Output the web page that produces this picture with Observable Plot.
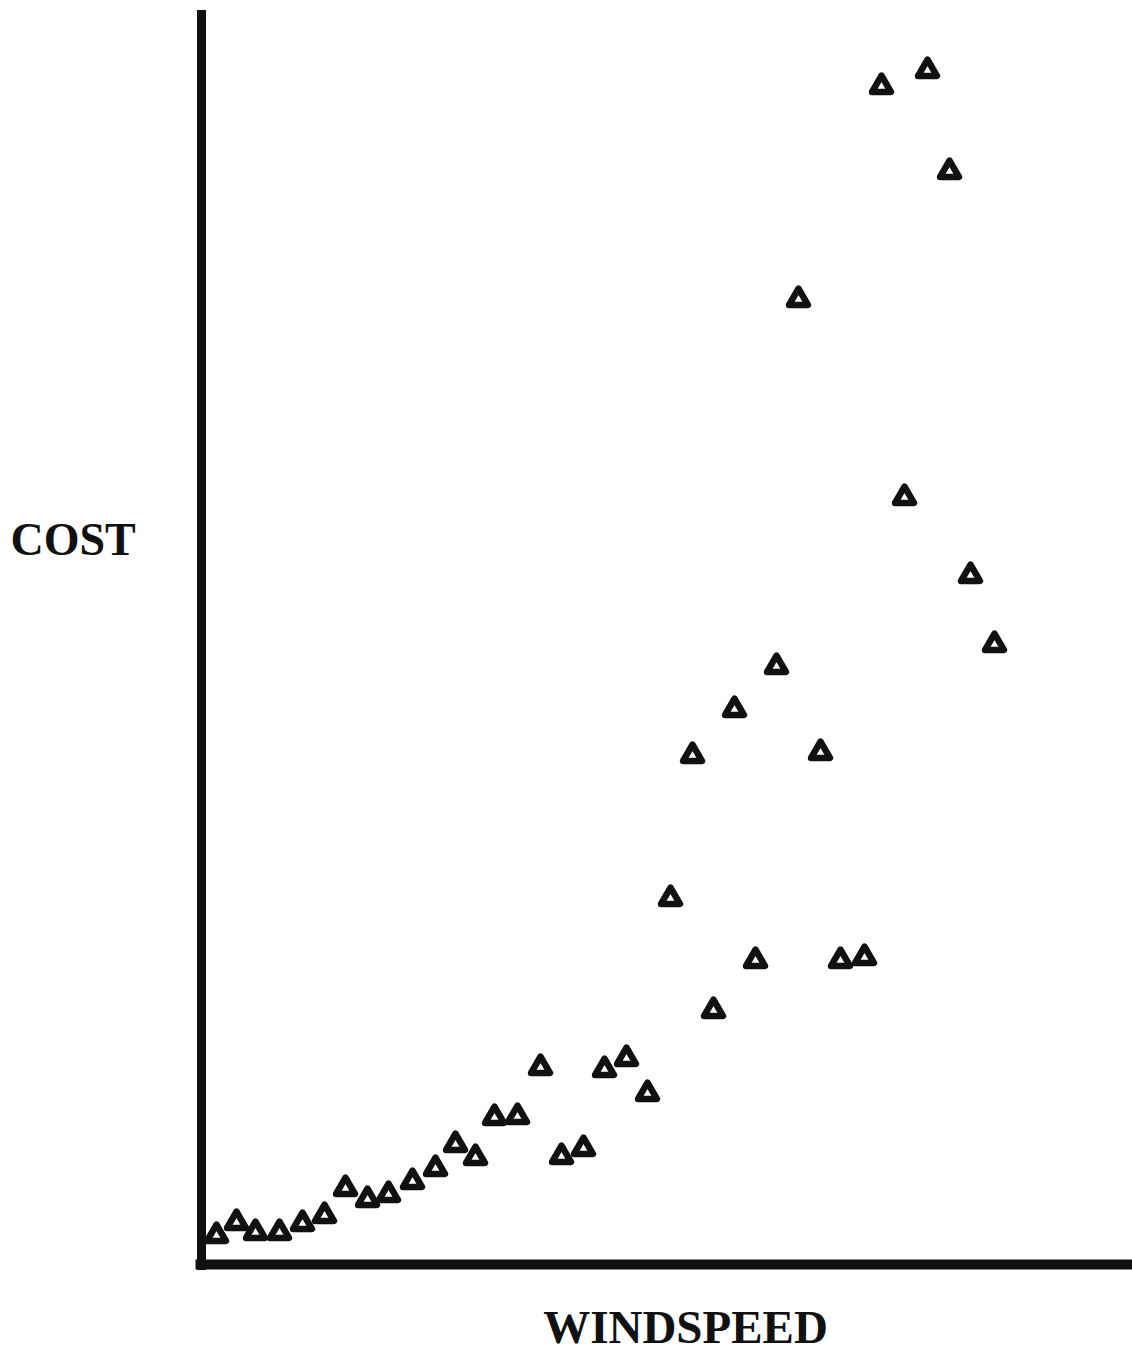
<!DOCTYPE html>
<html>
<head>
<meta charset="utf-8">
<script src="https://cdn.jsdelivr.net/npm/d3@7"></script>
<script src="https://cdn.jsdelivr.net/npm/@observablehq/plot@0.6"></script>
<style>
  html, body { margin: 0; padding: 0; background: white; }
</style>
</head>
<body>
<div id="chart"></div>
<script>
// Wind speed readings (arbitrary units, no ticks in the original)
const windspeed = [1.5,3.5,5.4,7.8,10.1,12.3,14.4,16.6,18.7,21.1,23.4,25.4,27.4,29.3,31.6,33.9,36.0,38.2,40.3,42.5,44.6,46.9,49.1,51.2,53.3,55.4,57.5,59.7,61.9,63.9,66.3,68.0,70.3,72.6,74.8,76.9,79.3];
// Cost readings (arbitrary units)
const cost = [2.9,4.2,3.2,3.2,4.1,4.9,7.6,6.5,7.0,8.3,9.6,12.0,10.7,14.7,14.8,19.7,10.8,11.6,19.5,20.6,17.1,36.6,50.9,25.4,55.5,30.4,59.8,96.5,51.2,30.4,30.7,117.8,76.7,119.4,109.3,68.9,62.0];
const xLabel = "WINDSPEED";
const yLabel = "COST";

const data = windspeed.map((w, i) => ({windspeed: w, cost: cost[i]}));

const chart = Plot.plot({
  width: 1132,
  height: 1356,
  marginLeft: 201,
  marginRight: 0,
  marginTop: 10,
  marginBottom: 92,
  style: {background: "white", fontFamily: "'Liberation Serif', 'Times New Roman', serif", color: "black"},
  x: {domain: [0, 93.1], axis: null},
  y: {domain: [0, 125.4], axis: null},
  marks: [
    Plot.ruleX([0], {y1: -0.6, y2: 125.4, stroke: "#111", strokeWidth: 9}),
    Plot.ruleY([0], {x1: -0.55, x2: 93.1, stroke: "#111", strokeWidth: 10}),
    Plot.dot(data, {x: "windspeed", y: "cost", symbol: "triangle", r: 7, stroke: "#111", strokeWidth: 6.5, strokeLinejoin: "round", fill: "white"}),
    Plot.text([yLabel], {frameAnchor: "left", textAnchor: "start", dx: -191, dy: -97, fontSize: 46, fontWeight: "bold", fill: "#111"}),
    Plot.text([xLabel], {frameAnchor: "bottom", dx: 18.5, dy: 78, fontSize: 47, fontWeight: "bold", fill: "#111"})
  ]
});
document.getElementById("chart").appendChild(chart);
</script>
</body>
</html>
